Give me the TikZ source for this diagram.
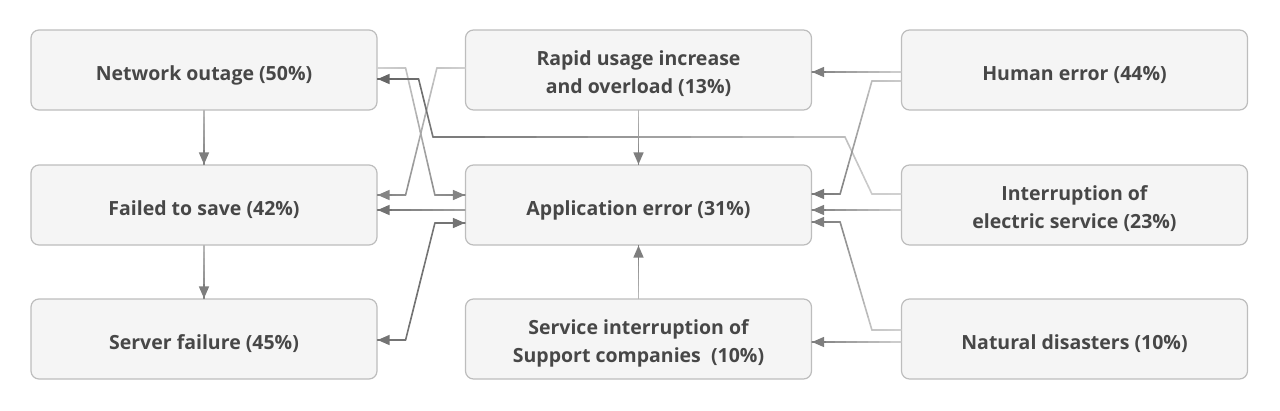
\documentclass[tikz,border=0pt]{standalone}
\usepackage{fontspec}
\setmainfont{Open Sans}
\usetikzlibrary{arrows.meta,calc}
\definecolor{boxfill}{HTML}{F5F5F5}
\definecolor{boxline}{HTML}{BDBDBD}
\definecolor{txt}{HTML}{474747}
\definecolor{dk}{HTML}{666666}
\definecolor{lt}{HTML}{DDDDDD}
\newcommand\gseg[4]{%
  \foreach \i in {0,...,7}{%
    \pgfmathsetmacro\ta{\i/8}%
    \pgfmathsetmacro\tb{(\i+1)/8}%
    \pgfmathsetmacro\ma{#3+(#4-#3)*(\i+0.5)/8}%
    \draw[conn, color=dk!\ma!lt] ($(#1)!\ta!(#2)$) -- ($(#1)!\tb!(#2)$);
  }}
\newcommand\garrow[3]{%
  \draw[conn, line cap=butt, -{Triangle[length=12pt,width=10pt]}, color=dk!#3!lt] ($(#2)!14pt!(#1)$) -- (#2);}
\begin{document}
\begin{tikzpicture}[x=1pt,y=-1pt,
  box/.style={draw=boxline, fill=boxfill, rounded corners=8pt, line width=1.2pt,
    minimum width=346pt, minimum height=80pt, inner sep=0pt, align=center, text=txt,
    text height=22pt, text depth=2pt,
    font=\fontsize{19.5}{28}\selectfont\bfseries},
  box2/.style={box, text height=48pt},
  conn/.style={line width=1.6pt, line cap=round}]
\useasboundingbox (0,0) rectangle (1280,410);
\node[box] (no) at (204,70) {Network outage (50\%)};
\node[box] (fs) at (204,205) {Failed to save (42\%)};
\node[box] (sf) at (204,339) {Server failure (45\%)};
\node[box2] (ru) at (638.5,70) {Rapid usage increase\\and overload (13\%)};
\node[box] (ae) at (638.5,205) {Application error (31\%)};
\node[box2] (si) at (638.5,339) {Service interruption of\\Support companies~~(10\%)};
\node[box] (he) at (1074.5,70) {Human error (44\%)};
\node[box2] (ie) at (1074.5,205) {Interruption of\\electric service (23\%)};
\node[box] (nd) at (1074.5,339) {Natural disasters (10\%)};
% C1 Network outage -> Application error
\coordinate (a0) at ($(no.east)+(0,-2)$);
\coordinate (a1) at ($(no.east)+(28,-2)$);
\coordinate (a3) at ($(ae.west)+(0,-10)$);
\coordinate (a2) at ($(a3)+(-30,0)$);
\gseg{a0}{a1}{10}{20}\gseg{a1}{a2}{20}{65}\gseg{a2}{a3}{65}{75}\garrow{a2}{a3}{75}
% C2 Rapid usage -> Failed to save
\coordinate (b0) at ($(ru.west)+(0,-2)$);
\coordinate (b1) at ($(b0)+(-28,0)$);
\coordinate (b3) at ($(fs.east)+(0,-10)$);
\coordinate (b2) at ($(b3)+(28,0)$);
\gseg{b0}{b1}{10}{20}\gseg{b1}{b2}{20}{65}\gseg{b2}{b3}{65}{75}\garrow{b2}{b3}{75}
% C3 Interruption -> Network outage
\coordinate (c0) at ($(ie.west)+(0,-11)$);
\coordinate (c1) at ($(c0)+(-29,0)$);
\coordinate (c2) at (845,137);
\coordinate (c3) at (433,137);
\coordinate (c5) at ($(no.east)+(0,9)$);
\coordinate (c4) at ($(c5)+(41,0)$);
\gseg{c0}{c1}{10}{14}\gseg{c1}{c2}{14}{24}\gseg{c2}{c3}{24}{85}\gseg{c3}{c4}{85}{94}\gseg{c4}{c5}{94}{100}\garrow{c4}{c5}{100}
% C4 Application error -> Failed to save
\coordinate (d0) at ($(ae.west)+(0,5)$);
\coordinate (d1) at ($(fs.east)+(0,5)$);
\gseg{d0}{d1}{50}{90}\garrow{d0}{d1}{90}
% C5 Server failure <-> Application error
\coordinate (e0) at ($(sf.east)+(0,1)$);
\coordinate (e1) at ($(e0)+(28,0)$);
\coordinate (e3) at ($(ae.west)+(0,18)$);
\coordinate (e2) at ($(e3)+(-30,0)$);
\gseg{e0}{e1}{88}{88}\gseg{e1}{e2}{88}{88}\gseg{e2}{e3}{88}{88}\garrow{e2}{e3}{88}\garrow{e1}{e0}{88}
% C6 Human error -> Rapid usage
\coordinate (f0) at ($(he.west)+(0,2)$);
\coordinate (f1) at ($(ru.east)+(0,2)$);
\gseg{f0}{f1}{10}{80}\garrow{f0}{f1}{80}
% C7 Human error -> Application error
\coordinate (g0) at ($(he.west)+(0,11)$);
\coordinate (g1) at ($(g0)+(-29,0)$);
\coordinate (g3) at ($(ae.east)+(0,-11)$);
\coordinate (g2) at ($(g3)+(28,0)$);
\gseg{g0}{g1}{15}{25}\gseg{g1}{g2}{25}{75}\gseg{g2}{g3}{75}{85}\garrow{g2}{g3}{85}
% C8 Interruption -> Application error
\coordinate (h0) at ($(ie.west)+(0,5)$);
\coordinate (h1) at ($(ae.east)+(0,5)$);
\gseg{h0}{h1}{10}{80}\garrow{h0}{h1}{80}
% C9 Natural disasters -> Application error
\coordinate (k0) at ($(nd.west)+(0,-9)$);
\coordinate (k1) at ($(k0)+(-29,0)$);
\coordinate (k3) at ($(ae.east)+(0,17)$);
\coordinate (k2) at ($(k3)+(28,0)$);
\gseg{k0}{k1}{10}{20}\gseg{k1}{k2}{20}{70}\gseg{k2}{k3}{70}{80}\garrow{k2}{k3}{80}
% C10 Natural disasters -> Service interruption
\coordinate (m0) at ($(nd.west)+(0,3)$);
\coordinate (m1) at ($(si.east)+(0,3)$);
\gseg{m0}{m1}{10}{80}\garrow{m0}{m1}{80}
% vertical
\gseg{no.south}{fs.north}{30}{80}\garrow{no.south}{fs.north}{80}
\gseg{fs.south}{sf.north}{30}{80}\garrow{fs.south}{sf.north}{80}
\gseg{ru.south}{ae.north}{30}{80}\garrow{ru.south}{ae.north}{80}
\gseg{si.north}{ae.south}{30}{80}\garrow{si.north}{ae.south}{80}
\end{tikzpicture}
\end{document}
